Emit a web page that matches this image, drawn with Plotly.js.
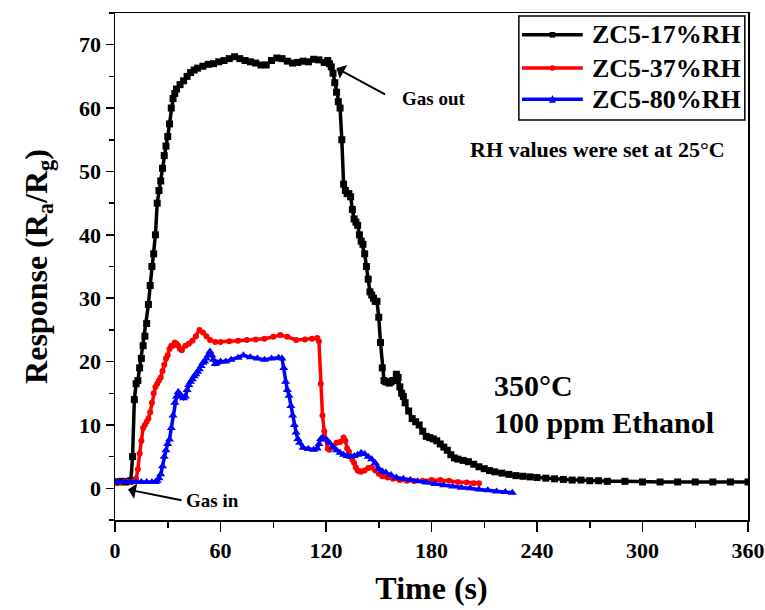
<!DOCTYPE html>
<html>
<head>
<meta charset="utf-8">
<script src="https://cdn.plot.ly/plotly-3.0.1.min.js"></script>
<style>html,body{margin:0;padding:0;background:#fff;}#chart{width:765px;height:610px;}</style>
</head>
<body>
<div id="chart"></div>
<script>
// ---- data ----
var seriesNames = ["ZC5-17%RH", "ZC5-37%RH", "ZC5-80%RH"];

var timeRH17 = [0,2,4,6,8,9,10,11,12,13,14,15,16,17,18,19,20,21,22,23,24,25,26,27,28,29,30,31,32,33,34,35,37,39,41,43,45,47,50,53,56,59,62,65,68,71,74,77,80,83,86,89,92,95,98,101,104,107,110,113,116,119,121,122,123,124,125,126,127,128,129,130,131,132,133,134,135,136,137,138,139,140,141,142,143,144,145,146,147,148,149,150,151,152,153,154,155,156,157,158,159,160,161,162,163,164,165,167,169,171,173,175,177,179,181,183,185,187,189,191,193,195,198,201,204,207,210,213,216,220,224,228,232,236,240,245,250,255,260,265,270,275,280,290,300,310,320,330,340,350,360];
var respRH17 = [1.0,1.0,1.1,1.0,1.1,1.2,5,14,16.5,17,19,20.5,22.5,24,26,29,32,35,37,40,45,47,48.5,50.5,52.5,54,55.5,57.5,60,61.5,62.3,63,63.7,64.3,65,65.6,66,66.3,66.6,66.9,67,67.3,67.5,67.8,68.1,67.8,67.5,67.3,67.1,66.8,66.8,67.5,67.9,67.8,67.4,67.1,67.2,67.4,67.3,67.7,67.6,67.2,67.5,67,66.5,65.5,64,62.5,61,60,55,48,47,46.5,46.5,46,44,42.5,42,41.5,40,39,38.5,37,35,33,31,30.5,30,29.5,29.5,27,23,19,17,16.8,16.8,16.6,16.8,17,17,18,17.5,16,15,14.5,13.5,12.2,11,10.5,10,9,8.2,8,7.8,7.5,7,6.5,6,5.3,4.8,4.6,4.4,4.2,3.8,3.4,3.1,2.8,2.6,2.4,2.2,2.0,1.9,1.8,1.7,1.6,1.5,1.4,1.3,1.3,1.2,1.2,1.1,1.1,1.0,1.0,1.0,1.0,1.0,1.0,1.0];

var timeRH37 = [0,3,6,9,11,12,13,14,15,16,17,18,19,20,21,22,23,24,25,26,27,28,29,30,31,32,33,34,35,36,37,38,40,42,44,46,48,50,52,54,57,60,65,70,75,80,85,90,94,98,103,108,112,115,116,117,118,119,120,121,122,124,126,128,130,131,132,133,134,135,136,137,138,139,140,142,144,146,148,150,152,155,158,162,166,170,175,180,185,190,195,200,204,207];
var respRH37 = [1.0,1.0,1.1,1.0,1.1,1.5,3,5.5,7.5,9.5,10,10.5,11,12,13.5,15,16,16.5,17,17.5,18.5,19.5,20.5,21,22,22.5,22.5,23,22.8,22.5,22,21.8,22.5,22.8,23.3,24,25,24.6,24,23.4,23.1,23.1,23.2,23.3,23.4,23.5,23.6,23.9,24.2,23.9,23.4,23.5,23.6,23.7,23.2,16.5,11.5,9,7.7,6.3,6.1,6.5,7.2,7.3,8,7.5,6.3,5.8,5,4.5,4,3.3,2.8,2.7,2.6,2.8,3.2,3.3,2.8,2.3,1.9,1.7,1.5,1.3,1.2,1.15,1.2,1.3,1.3,1.2,1.0,0.9,0.8,0.8];

var timeRH80 = [0,3,6,9,12,15,18,21,23,24,25,26,27,28,29,30,31,32,33,34,35,36,37,38,39,40,41,42,43,44,45,46,47,48,49,50,51,52,53,54,55,56,57,58,60,63,66,70,73,77,81,85,89,93,95,96,97,98,99,100,101,102,103,104,105,107,110,113,115,116,117,118,120,122,124,126,128,130,132,134,136,138,140,142,144,146,148,150,152,154,157,160,164,168,172,177,182,187,192,197,202,207,212,217,222,226];
var respRH80 = [1.0,1.0,1.0,1.0,1.0,1.0,1.0,1.0,1.0,1.2,1.6,2.2,3.5,5,6,7,7.7,9.5,11.5,13.5,14.5,15.2,14.8,14.5,14.2,14.5,15.5,16.3,16.8,17.2,17.7,18,18.4,18.8,19.3,19.8,20,20.5,21,21.6,21,20.3,19.6,19.8,20,20,20.3,20.6,21,20.7,20.5,20.3,20.5,20.6,20.5,19,16.8,15.5,14.6,13,11.5,10,8.8,7.8,7.2,6.4,6.2,6.1,6.3,7,7.8,8,7.7,7.2,6.5,6,5.6,5.3,5.1,5,5.1,5.3,5.6,5.4,5,4.6,4,3.1,2.7,2.5,2.1,1.7,1.5,1.3,1.1,0.9,0.7,0.5,0.3,0.1,0,-0.2,-0.3,-0.5,-0.6,-0.7];

var xTickVals = [0,60,120,180,240,300,360];
var yTickVals = [0,10,20,30,40,50,60,70];

// ---- chart ----
var FONT = "Liberation Serif, Times New Roman, serif";
var colors = ["#000000", "#ff0000", "#0000ff"];
var symbols = ["square", "circle", "triangle-up"];
var msizes = [7, 6, 8];

var xs = [timeRH17, timeRH37, timeRH80];
var ys = [respRH17, respRH37, respRH80];
var traces = [];
for (var i = 0; i < 3; i++) {
  traces.push({
    type: "scatter", mode: "lines+markers", name: seriesNames[i],
    x: xs[i], y: ys[i],
    line: {color: colors[i], width: 3.5},
    marker: {color: colors[i], symbol: symbols[i], size: msizes[i]},
    showlegend: false
  });
}

// manual legend (paper coordinates)
var legY = [0.957, 0.8915, 0.830];
var shapes = [{
  type: "rect", xref: "paper", yref: "paper",
  x0: 0.638, x1: 0.995, y0: 0.789, y1: 0.994,
  line: {color: "#000", width: 1.5}, fillcolor: "rgba(0,0,0,0)"
}];
var annotations = [];
for (var k = 0; k < 3; k++) {
  shapes.push({type: "line", xref: "paper", yref: "paper",
    x0: 0.643, x1: 0.739, y0: legY[k], y1: legY[k],
    line: {color: colors[k], width: 3.5}});
  var cx = 0.691, dx = 3.5 / 633, dy = 3.5 / 507;
  if (k === 0) {
    shapes.push({type: "rect", xref: "paper", yref: "paper",
      x0: cx - dx * 0.8, x1: cx + dx * 0.8, y0: legY[k] - dy * 0.8, y1: legY[k] + dy * 0.8,
      line: {width: 0}, fillcolor: colors[k]});
  } else if (k === 1) {
    shapes.push({type: "circle", xref: "paper", yref: "paper",
      x0: cx - dx * 0.8, x1: cx + dx * 0.8, y0: legY[k] - dy * 0.8, y1: legY[k] + dy * 0.8,
      line: {width: 0}, fillcolor: colors[k]});
  } else {
    shapes.push({type: "path", xref: "paper", yref: "paper",
      path: "M " + (cx - dx) + " " + (legY[k] - dy) + " L " + (cx + dx) + " " + (legY[k] - dy) + " L " + cx + " " + (legY[k] + dy * 1.2) + " Z",
      line: {width: 0}, fillcolor: colors[k]});
  }
  annotations.push({xref: "paper", yref: "paper", x: 0.750, y: legY[k],
    xanchor: "left", yanchor: "middle", showarrow: false, text: seriesNames[k],
    font: {family: FONT, size: 26, weight: "bold", color: "#000"}});
}

var txtFont = function (s) { return {family: FONT, size: s, weight: "bold", color: "#000"}; };
annotations.push(
  {x: 162, y: 61.5, xref: "x", yref: "y", xanchor: "left", yanchor: "middle", showarrow: false, text: "Gas out", font: txtFont(19)},
  {x: 126, y: 66.3, xref: "x", yref: "y", text: "", showarrow: true, ax: 50, ay: 27, arrowhead: 1, arrowsize: 1.3, arrowwidth: 2, arrowcolor: "#000"},
  {x: 39, y: -1.9, xref: "x", yref: "y", xanchor: "left", yanchor: "middle", showarrow: false, text: "Gas in", font: txtFont(19)},
  {x: 7.4, y: -0.2, xref: "x", yref: "y", text: "", showarrow: true, ax: 55, ay: 11, arrowhead: 1, arrowsize: 1.3, arrowwidth: 2, arrowcolor: "#000"},
  {x: 200.8, y: 53.5, xref: "x", yref: "y", xanchor: "left", yanchor: "middle", showarrow: false, text: "RH values were set at 25°C", font: txtFont(22)},
  {x: 214.5, y: 16.3, xref: "x", yref: "y", xanchor: "left", yanchor: "middle", showarrow: false, text: "350°C", font: txtFont(30)},
  {x: 214.5, y: 10.4, xref: "x", yref: "y", xanchor: "left", yanchor: "middle", showarrow: false, text: "100 ppm Ethanol", font: txtFont(30)}
);

var layout = {
  width: 765, height: 610,
  margin: {l: 115, r: 17, t: 13, b: 90},
  paper_bgcolor: "#fff", plot_bgcolor: "#fff",
  showlegend: false,
  xaxis: {
    range: [0, 360], tickvals: xTickVals, ticktext: xTickVals.map(String),
    ticks: "outside", ticklen: 10, tickwidth: 1.5, tickcolor: "#000",
    minor: {dtick: 30, tick0: 0, ticks: "outside", ticklen: 6, tickwidth: 1.5, tickcolor: "#000", showgrid: false},
    showline: true, linewidth: 1.5, linecolor: "#000", mirror: true,
    showgrid: false, zeroline: false,
    tickfont: {family: FONT, size: 22, weight: "bold", color: "#000"},
    title: {text: "Time (s)", font: {family: FONT, size: 32, weight: "bold", color: "#000"}, standoff: 14}
  },
  yaxis: {
    range: [-5, 75], tickvals: yTickVals, ticktext: yTickVals.map(String),
    ticks: "outside", ticklen: 8, tickwidth: 1.5, tickcolor: "#000",
    minor: {dtick: 5, tick0: 0, ticks: "outside", ticklen: 5, tickwidth: 1.5, tickcolor: "#000", showgrid: false},
    showline: true, linewidth: 1.5, linecolor: "#000", mirror: true,
    showgrid: false, zeroline: false,
    tickfont: {family: FONT, size: 22, weight: "bold", color: "#000"},
    title: {text: "Response (R<sub>a</sub>/R<sub>g</sub>)", font: {family: FONT, size: 32, weight: "bold", color: "#000"}, standoff: 22}
  },
  shapes: shapes,
  annotations: annotations
};

Plotly.newPlot("chart", traces, layout, {displayModeBar: false, staticPlot: true});
</script>
</body>
</html>
